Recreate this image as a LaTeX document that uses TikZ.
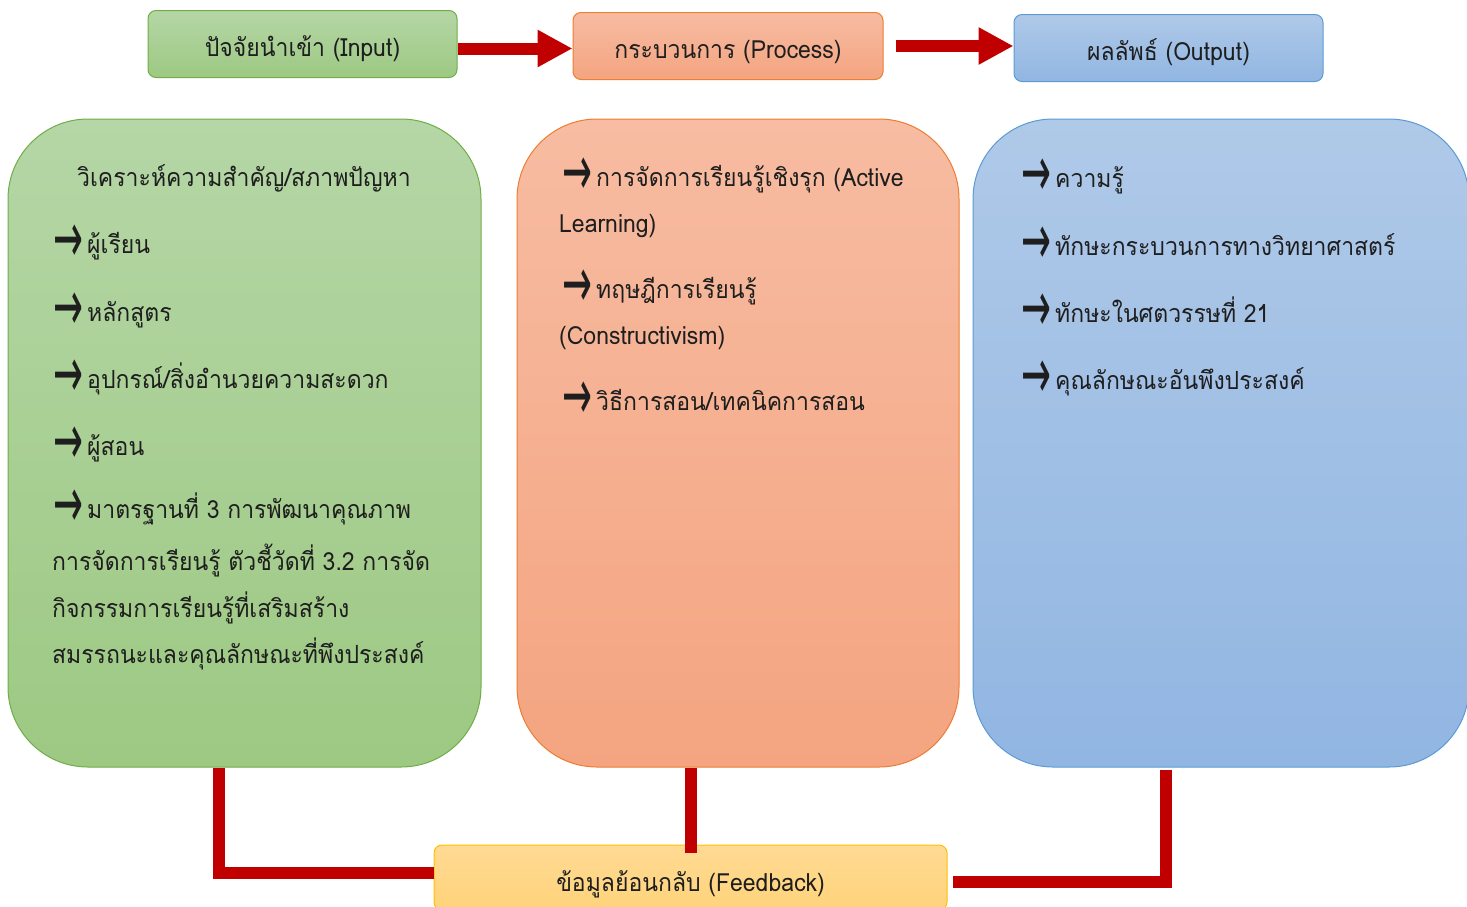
\documentclass[tikz,border=0pt]{standalone}
\usepackage{fontspec}
\setmainfont[Script=Thai,FakeStretch=0.92]{Loma}
\newfontfamily\arrowfont{DejaVu Sans}
\usetikzlibrary{arrows.meta}
\definecolor{inTop}{RGB}{181,214,166}
\definecolor{inBot}{RGB}{157,201,131}
\definecolor{inLine}{RGB}{112,173,71}
\definecolor{prTop}{RGB}{247,188,162}
\definecolor{prBot}{RGB}{244,164,128}
\definecolor{prLine}{RGB}{237,125,49}
\definecolor{outTop}{RGB}{175,201,232}
\definecolor{outBot}{RGB}{145,182,226}
\definecolor{outLine}{RGB}{91,155,213}
\definecolor{fbTop}{RGB}{255,218,148}
\definecolor{fbBot}{RGB}{255,211,122}
\definecolor{fbLine}{RGB}{255,192,0}
\definecolor{linkred}{RGB}{192,0,0}
\definecolor{ink}{RGB}{30,30,30}
\tikzset{
  topbox/.style={draw, line width=1pt, rounded corners=8pt, minimum width=309pt, minimum height=67pt, text height=30pt, text depth=6pt, font=\fontsize{25}{30}\selectfont, text=ink},
  colbox/.style={draw, line width=1pt, rounded corners=80pt, minimum height=648pt},
  txt/.style={anchor=base west, inner sep=0pt, font=\fontsize{25}{30}\selectfont, text=ink},
  flow/.style={draw=linkred, line width=12pt, -{Triangle[length=35pt,width=35pt]}},
  link/.style={draw=linkred, line width=12pt}
}
\newcommand{\arr}{\makebox[34pt][l]{\smash{\raisebox{-9pt}{\arrowfont\fontsize{34}{34}\selectfont\scalebox{1.05}[2.1]{→}}}}}
\newcommand{\linetext}[4]{\node[txt] (#1) at (#2,#3) {#4};}

\begin{document}
\begin{tikzpicture}[x=1pt,y=-1pt]
    \useasboundingbox (0,0) rectangle (1467,906);
    \clip (0,0) rectangle (1467,906);
    % top row
    \node[topbox, top color=inTop, bottom color=inBot, draw=inLine] (input) at (302.5,44) {ปัจจัยนำเข้า (Input)};
    \node[topbox, top color=prTop, bottom color=prBot, draw=prLine, minimum width=310pt] (process) at (728,46) {กระบวนการ (Process)};
    \node[topbox, top color=outTop, bottom color=outBot, draw=outLine] (output) at (1168.5,48) {ผลลัพธ์ (Output)};
    \draw[flow] ([yshift=-4.5pt]input.east) -- ([yshift=-4.5pt]input.east -| process.west);
    \draw[flow] ([xshift=12pt]process.east) -- (process.east -| output.west);
    % columns
    \node[colbox, top color=inTop, bottom color=inBot, draw=inLine, minimum width=473pt] (incol) at (244.5,443) {};
    \node[colbox, top color=prTop, bottom color=prBot, draw=prLine, minimum width=442pt] (proccol) at (738,443) {};
    \node[colbox, top color=outTop, bottom color=outBot, draw=outLine, minimum width=496pt] (outcol) at (1221,443) {};
    % feedback
    \node[topbox, top color=fbTop, bottom color=fbBot, draw=fbLine, minimum width=513pt, minimum height=65pt, text height=33pt] (feedback) at (690.5,877.5) {ข้อมูลย้อนกลับ (Feedback)};
    \draw[link] ([xshift=-25.5pt]incol.south) |- ([yshift=4.5pt]feedback.west);
    \draw[link] (feedback.north |- proccol.south) -- ([yshift=-8pt]feedback.north);
    \draw[link] ([xshift=-55pt,yshift=-2pt]outcol.south) |- ([xshift=5pt,yshift=-4.5pt]feedback.east);
    % input text
    \linetext{in0}{77}{186}{วิเคราะห์ความสำคัญ/สภาพปัญหา}
    \linetext{in1}{53}{253}{\arr ผู้เรียน}
    \linetext{in2}{53}{321}{\arr หลักสูตร}
    \linetext{in3}{53}{388}{\arr อุปกรณ์/สิ่งอำนวยความสะดวก}
    \linetext{in4}{53}{455}{\arr ผู้สอน}
    \linetext{in5}{53}{518}{\arr มาตรฐานที่ 3 การพัฒนาคุณภาพ}
    \linetext{in5b}{52}{570}{การจัดการเรียนรู้ ตัวชี้วัดที่ 3.2 การจัด}
    \linetext{in5c}{52}{617}{กิจกรรมการเรียนรู้ที่เสริมสร้าง}
    \linetext{in5d}{52}{663}{สมรรถนะและคุณลักษณะที่พึงประสงค์}
    % process text
    \linetext{pr1}{562}{186}{\arr การจัดการเรียนรู้เชิงรุก (Active}
    \linetext{pr1b}{559}{232}{Learning)}
    \linetext{pr2}{562}{298}{\arr ทฤษฎีการเรียนรู้}
    \linetext{pr2b}{559}{344}{(Constructivism)}
    \linetext{pr3}{562}{410}{\arr วิธีการสอน/เทคนิคการสอน}
    % output text
    \linetext{out1}{1021}{187}{\arr ความรู้}
    \linetext{out2}{1021}{255}{\arr ทักษะกระบวนการทางวิทยาศาสตร์}
    \linetext{out3}{1021}{322}{\arr ทักษะในศตวรรษที่ 21}
    \linetext{out4}{1021}{389}{\arr คุณลักษณะอันพึงประสงค์}
\end{tikzpicture}
\end{document}
